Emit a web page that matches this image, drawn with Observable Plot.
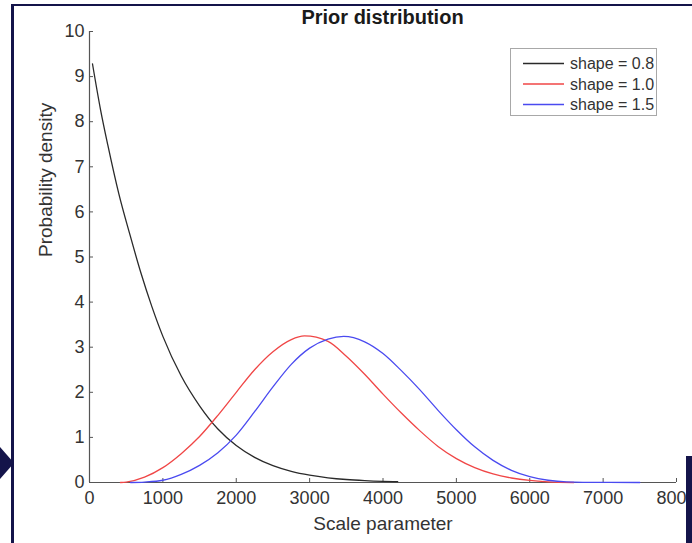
<!DOCTYPE html>
<html>
<head>
<meta charset="utf-8">
<script src="https://cdn.jsdelivr.net/npm/d3@7"></script>
<script src="https://cdn.jsdelivr.net/npm/@observablehq/plot@0.6"></script>
<style>
  body { margin: 0; background: #fff; }
  #wrap { position: relative; width: 692px; height: 543px; overflow: hidden; font-family: "Liberation Sans", Arial, Helvetica, sans-serif; background: #fff; }
  #chart { position: absolute; left: 0; top: 0; }
  #title { position: absolute; left: 89px; width: 587px; top: 6px; text-align: center; font-weight: bold; font-size: 20px; color: #1a1a1a; }
  #legend { position: absolute; left: 510px; top: 48px; width: 147px; height: 68px; }
  .frame { position: absolute; background: #14144a; }
</style>
</head>
<body>
<div id="wrap">
  <div id="chart"></div>
  <div id="title"></div>
  <svg id="legend" width="147" height="68" xmlns="http://www.w3.org/2000/svg"></svg>
  <div class="frame" style="left:11px;top:4px;width:3px;height:539px;"></div>
  <div class="frame" style="left:11px;top:4px;width:681px;height:2px;"></div>
  <div class="frame" style="left:686px;top:456px;width:6px;height:87px;"></div>
  <div style="position:absolute;left:0;top:447px;width:0;height:0;border-top:16px solid transparent;border-bottom:16px solid transparent;border-left:14px solid #14144a;"></div>
</div>
<script>
// ---- data ----
const titleText = "Prior distribution";
const xLabel = "Scale parameter";
const yLabel = "Probability density";
const xTicks = [0, 1000, 2000, 3000, 4000, 5000, 6000, 7000, 8000];
const yTicks = [0, 1, 2, 3, 4, 5, 6, 7, 8, 9, 10];
const seriesNames = ["shape = 0.8", "shape = 1.0", "shape = 1.5"];
const seriesColors = ["#2a2a2a", "#f04646", "#4a4af0"];

const shape08X = [41, 150, 250, 400, 550, 700, 850, 1000, 1250, 1500, 1750, 2000, 2250, 2500, 2750, 3000, 3250, 3500, 3750, 4000, 4200];
const shape08Y = [9.28, 8.27, 7.48, 6.4, 5.5, 4.65, 3.9, 3.24, 2.36, 1.7, 1.185, 0.82, 0.557, 0.373, 0.247, 0.162, 0.104, 0.066, 0.042, 0.026, 0.018];

const shape10X = [422, 500, 750, 1000, 1250, 1500, 1750, 2000, 2250, 2500, 2750, 2930, 3250, 3500, 3750, 4000, 4250, 4500, 4750, 5000, 5250, 5500, 5750, 6000, 6250, 6600];
const shape10Y = [0.0, 0.01, 0.12, 0.33, 0.64, 1.02, 1.49, 2.0, 2.5, 2.9, 3.17, 3.25, 3.13, 2.8, 2.4, 1.96, 1.54, 1.15, 0.8, 0.53, 0.33, 0.19, 0.1, 0.045, 0.015, 0.0];

const shape15X = [560, 750, 1000, 1250, 1500, 1750, 2000, 2250, 2500, 2750, 3000, 3250, 3465, 3750, 4000, 4250, 4500, 4750, 5000, 5250, 5500, 5750, 6000, 6250, 6500, 7000, 7500];
const shape15Y = [0.0, 0.01, 0.05, 0.18, 0.38, 0.66, 1.05, 1.57, 2.12, 2.62, 2.98, 3.18, 3.24, 3.12, 2.86, 2.48, 2.06, 1.6, 1.17, 0.79, 0.49, 0.27, 0.13, 0.05, 0.015, 0.002, 0.0];

// ---- build ----
const toRows = (xs, ys, name) => xs.map((x, i) => ({x, y: ys[i], name}));
const rows = [
  ...toRows(shape08X, shape08Y, seriesNames[0]),
  ...toRows(shape10X, shape10Y, seriesNames[1]),
  ...toRows(shape15X, shape15Y, seriesNames[2])
];

const font = '"Liberation Sans", Arial, Helvetica, sans-serif';
const axisColor = "#555";

const chart = Plot.plot({
  width: 692,
  height: 543,
  marginLeft: 89,
  marginRight: 16,
  marginTop: 31,
  marginBottom: 61,
  style: {fontFamily: font, fontSize: "18px", color: "#333", background: "transparent", overflow: "visible"},
  x: {domain: [0, 8000]},
  y: {domain: [0, 10]},
  color: {domain: seriesNames, range: seriesColors},
  marks: [
    Plot.ruleY([0], {stroke: axisColor, strokeWidth: 1.2}),
    Plot.ruleX([0], {stroke: axisColor, strokeWidth: 1.2}),
    Plot.axisX(xTicks, {tickSize: -4, tickPadding: 13, tickFormat: d => String(d), label: null, stroke: axisColor, fill: "#333"}),
    Plot.axisY(yTicks, {tickSize: -4, tickPadding: 9, tickFormat: d => String(d), label: null, stroke: axisColor, fill: "#333"}),
    Plot.line(rows, {x: "x", y: "y", z: "name", stroke: "name", strokeWidth: 1.3, curve: "monotone-x"}),
    Plot.text([xLabel], {frameAnchor: "bottom", dy: 47, fontSize: 19, fill: "#333"}),
    Plot.text([yLabel], {frameAnchor: "left", rotate: -90, dx: -44, fontSize: 19, fill: "#333"})
  ]
});
document.getElementById("chart").appendChild(chart);
document.getElementById("title").textContent = titleText;

// legend (SVG)
const NS = "http://www.w3.org/2000/svg";
const legend = document.getElementById("legend");
const box = document.createElementNS(NS, "rect");
box.setAttribute("x", 0.5); box.setAttribute("y", 0.5);
box.setAttribute("width", 146); box.setAttribute("height", 67);
box.setAttribute("fill", "#fff"); box.setAttribute("stroke", "#a8a8a8");
legend.appendChild(box);
seriesNames.forEach((n, i) => {
  const cy = 15.5 + i * 20.5;
  const ln = document.createElementNS(NS, "line");
  ln.setAttribute("x1", 13); ln.setAttribute("x2", 54);
  ln.setAttribute("y1", cy); ln.setAttribute("y2", cy);
  ln.setAttribute("stroke", seriesColors[i]); ln.setAttribute("stroke-width", 1.3);
  legend.appendChild(ln);
  const tx = document.createElementNS(NS, "text");
  tx.setAttribute("x", 60); tx.setAttribute("y", cy);
  tx.setAttribute("dy", "0.35em");
  tx.setAttribute("font-size", 16);
  tx.setAttribute("font-family", font);
  tx.setAttribute("fill", "#333");
  tx.textContent = n;
  legend.appendChild(tx);
});
</script>
</body>
</html>
